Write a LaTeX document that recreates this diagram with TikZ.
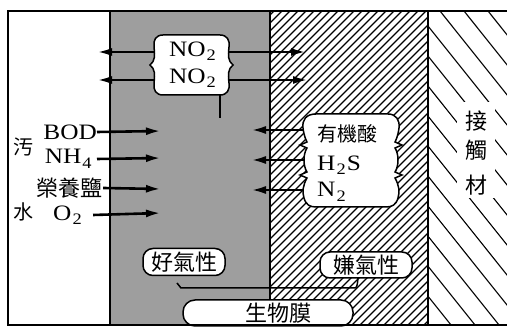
\documentclass[tikz,border=0pt]{standalone}
\usepackage{fontspec}
\setmainfont[FakeStretch=1.15]{Liberation Serif}
\newfontfamily\cjk{Noto Sans CJK TC}
\usetikzlibrary{arrows.meta}
\newcommand\sbx[1]{\kern0.05em\raisebox{-0.2em}{\fontsize{16}{16}\selectfont #1}\kern0.05em}
\begin{document}
\begin{tikzpicture}[x=1pt,y=-1pt,
 lat/.style={font=\fontsize{22}{24}\selectfont, inner sep=0pt},
 cj/.style={font=\cjk\fontsize{22}{24}\selectfont, inner sep=0pt},
 cjm/.style={font=\cjk\fontsize{20}{22}\selectfont, inner sep=0pt},
 cjs/.style={font=\cjk\fontsize{20}{22}\selectfont, inner sep=0pt},
 edgeline/.style={line width=1.8pt},
 arr/.style={line width=2.6pt,-{Latex[length=15pt,width=8pt]}},
 tag/.style={font=\cjk\fontsize{22}{24}\selectfont, draw, line width=1.5pt, fill=white, rounded corners=10pt, inner sep=0pt},
 blob/.style={draw, line width=1.5pt, fill=white}]

\useasboundingbox (0,0) rectangle (507,328);

% stippled aerobic layer
\fill[black!38] (110,11) rectangle (270,325);
% hatched anaerobic layer
\begin{scope}
  \clip (270,11) rectangle (428,325);
  \foreach \k in {-48,-40,...,432} \draw[line width=1.3pt] (\k,325) -- ({\k+314},11);
\end{scope}
% contact material
\begin{scope}
  \clip (428,11) rectangle (507,325);
  \foreach \k in {176,200,...,510} \draw[line width=1.1pt] (\k,11) -- ({\k+251},325);
\end{scope}
\fill[white] (457,102) rectangle (495,198);

% frame and boundaries
\draw[edgeline] (507,11) -- (8,11) -- (8,325) -- (507,325);
\draw[edgeline] (110,11) -- (110,325);
\draw[edgeline] (270,11) -- (270,300);
\draw[edgeline] (428,11) -- (428,325);

% coordinates for connectors
\coordinate (n1w) at (156,52);  \coordinate (n1wt) at (97,52);
\coordinate (n2w) at (156,80);  \coordinate (n2wt) at (97,80);
\coordinate (n1e) at (226,52);  \coordinate (n1et) at (306,52);
\coordinate (n2e) at (226,80);  \coordinate (n2et) at (308,80);
\coordinate (nob) at (220,94);  \coordinate (nobt) at (220,118);
\coordinate (t1) at (161,131);
\coordinate (t2) at (161,158);
\coordinate (t3) at (161,189);
\coordinate (t4) at (161,213);
\coordinate (o1) at (306,130);  \coordinate (o1t) at (251,130);
\coordinate (o2) at (306,160);  \coordinate (o2t) at (251,160);
\coordinate (o3) at (306,190);  \coordinate (o3t) at (251,190);

% arrows from NO2
\draw[arr] (n1w) -- (n1wt);
\draw[arr] (n2w) -- (n2wt);
\draw[arr] (n1e) -- (n1et);
\draw[arr] (n2e) -- (n2et);
\draw[line width=1.2pt] (nob) -- (nobt);

% arrows from the organic acid cloud
\draw[arr] (o1) -- (o1t);
\draw[arr] (o2) -- (o2t);
\draw[arr] (o3) -- (o3t);

% NO2 cloud
\draw[blob] (163,35) -- (220,35)
  .. controls (227,35) and (230,40) .. (229,47)
  .. controls (228,56) and (228,61) .. (233,65)
  .. controls (228,69) and (228,74) .. (229,83)
  .. controls (230,90) and (227,95) .. (220,95)
  -- (163,95)
  .. controls (156,95) and (153,90) .. (154,83)
  .. controls (155,74) and (155,69) .. (150,65)
  .. controls (155,61) and (155,56) .. (154,47)
  .. controls (153,40) and (156,35) .. (163,35) -- cycle;
\node[lat] (no1) at (193,51) {NO\sbx{2}};
\node[lat] (no2) at (193,78) {NO\sbx{2}};

% organic acid cloud
\draw[blob] (316,114) -- (388,114)
  .. controls (396,114) and (400,120) .. (399,128)
  .. controls (398,136) and (396,140) .. (395,142)
  .. controls (398,144) .. (402,145)
  .. controls (398,146) .. (395,148)
  .. controls (399,154) and (399,166) .. (395,172)
  .. controls (398,174) .. (402,175)
  .. controls (398,176) .. (395,178)
  .. controls (399,185) and (400,192) .. (398,198)
  .. controls (396,205) and (392,207) .. (386,207)
  -- (316,207)
  .. controls (310,207) and (306,205) .. (304,198)
  .. controls (302,192) and (303,185) .. (307,178)
  .. controls (304,176) .. (300,175)
  .. controls (304,174) .. (307,172)
  .. controls (303,166) and (303,154) .. (307,148)
  .. controls (304,146) .. (300,145)
  .. controls (304,144) .. (307,142)
  .. controls (306,140) and (304,136) .. (303,128)
  .. controls (302,120) and (306,114) .. (316,114) -- cycle;
\node[cjm, anchor=west] (acid) at (317,134) {有機酸};
\node[lat, anchor=west] (h2s) at (317,165) {H\sbx{2}S};
\node[lat, anchor=west] (n2) at (317,192) {N\sbx{2}};

% left labels
\node[cjs] (wu) at (23,147) {汚};
\node[cjs] (sui) at (23,212) {水};
\node[lat, anchor=east] (bod) at (97,132) {BOD};
\node[lat, anchor=east] (nh4) at (93,159) {NH\sbx{4}};
\node[cj] (nut) at (70,188) {榮養鹽};
\node[lat] (o2) at (68,215) {O\sbx{2}};
\draw[arr] (bod.east) -- (t1);
\draw[arr] (nh4.east) ++(4,0) -- (t2);
\draw[arr] (nut.east) -- (t3);
\draw[arr] (o2.east) ++(10,0) -- (t4);

% layer labels and biofilm
\node[tag, minimum width=82pt, minimum height=27pt] (aer) at (184,262) {好氣性};
\node[tag, minimum width=92pt, minimum height=26pt] (ana) at (366,265) {嫌氣性};
\coordinate (hk) at (177,283);
\coordinate (ab) at (358,278);
\draw[line width=1.5pt] (hk) -- (181,288) -- (353,288) .. controls (357,288) .. (ab);
\draw[line width=1.5pt, fill=white, rounded corners=12pt] (183,300) rectangle (353,326);
\node[cj] (bio) at (278,313) {生物膜};
\draw[edgeline] (8,325) -- (507,325);

% contact material
\node[cj] (c1) at (476,121) {接};
\node[cj] (c2) at (476,150) {觸};
\node[cj] (c3) at (476,185) {材};
\end{tikzpicture}
\end{document}
